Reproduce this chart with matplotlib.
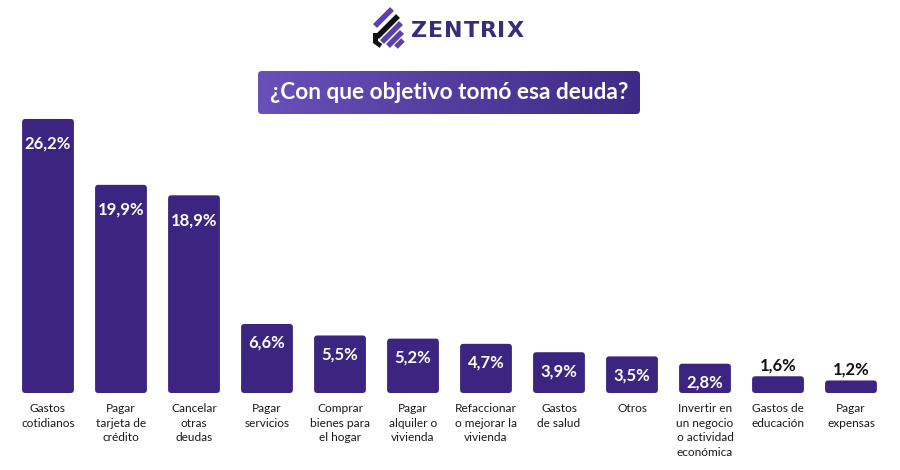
import matplotlib
matplotlib.use('Agg')
import matplotlib.pyplot as plt
import numpy as np
from matplotlib.patches import FancyBboxPatch, Polygon
from matplotlib.colors import LinearSegmentedColormap

plt.rcParams['font.family'] = ['Lato', 'DejaVu Sans']

# data
categorias = ['Gastos\ncotidianos', 'Pagar\ntarjeta de\ncrédito', 'Cancelar\notras\ndeudas',
              'Pagar\nservicios', 'Comprar\nbienes para\nel hogar', 'Pagar\nalquiler o\nvivienda',
              'Refaccionar\no mejorar la\nvivienda', 'Gastos\nde salud', 'Otros',
              'Invertir en\nun negocio\no actividad\neconómica', 'Gastos de\neducación',
              'Pagar\nexpensas']
valores = [26.2, 19.9, 18.9, 6.6, 5.5, 5.2, 4.7, 3.9, 3.5, 2.8, 1.6, 1.2]
etiquetas = ['26,2%', '19,9%', '18,9%', '6,6%', '5,5%', '5,2%', '4,7%', '3,9%', '3,5%',
             '2,8%', '1,6%', '1,2%']

bar_color = '#3c2581'
W, H = 900, 470

fig = plt.figure(figsize=(9, 4.7), dpi=100)
ax = fig.add_axes([0, 0, 1, 1])
ax.set_xlim(-48 / 73, (W - 48) / 73)
ax.set_ylim(-77 / 10.46, (H - 77) / 10.46)
ax.axis('off')

x = np.arange(len(valores))
bars = ax.bar(x, valores, width=0.71, color=bar_color, alpha=0)

# rounded bars, same geometry as the bar container
aspect = (1 / 10.46) / (1 / 73)
for b in bars:
    p = FancyBboxPatch((b.get_x(), b.get_y()), b.get_width(), b.get_height(),
                       boxstyle='round,pad=0,rounding_size=0.045',
                       mutation_aspect=aspect, facecolor=bar_color, edgecolor='none')
    ax.add_patch(p)

PT = 0.72  # points per pixel
for xi, v, lab in zip(x, valores, etiquetas):
    if v >= 15:
        ax.annotate(lab, (xi, v), xytext=(0, -25 * PT), textcoords='offset points',
                    ha='center', va='center', color='white', fontsize=12, fontweight='bold')
    elif v >= 2.5:
        ax.annotate(lab, (xi, v), xytext=(0, -19 * PT), textcoords='offset points',
                    ha='center', va='center', color='white', fontsize=12, fontweight='bold')
    else:
        ax.annotate(lab, (xi, v), xytext=(0, 2), textcoords='offset points',
                    ha='center', va='bottom', color='#111111', fontsize=12, fontweight='bold')

for xi, c in zip(x, categorias):
    ax.annotate(c, (xi, 0), xytext=(0, -7), textcoords='offset points',
                ha='center', va='top', fontsize=8.6, color='#1a1a1a', linespacing=1.42)

# title box with gradient
def px(xp, yp):
    return xp / W, 1 - yp / H

tx0, tx1, ty0, ty1 = 258, 640, 71, 114
grad = np.linspace(0, 1, 256).reshape(1, -1)
cmap = LinearSegmentedColormap.from_list('g', ['#6a50b9', '#3e2a86'])
gax = fig.add_axes([tx0 / W, 1 - ty1 / H, (tx1 - tx0) / W, (ty1 - ty0) / H])
gax.axis('off')
im = gax.imshow(grad, aspect='auto', cmap=cmap, extent=(0, 1, 0, 1))
clip = FancyBboxPatch((0, 0), 1, 1, boxstyle='round,pad=0,rounding_size=0.01',
                      mutation_aspect=(tx1 - tx0) / (ty1 - ty0), transform=gax.transAxes,
                      facecolor='none', edgecolor='none')
gax.add_patch(clip)
im.set_clip_path(clip)
gax.set_xlim(0, 1)
gax.set_ylim(0, 1)
fig.text((tx0 + tx1) / 2 / W, 1 - (ty0 + ty1) / 2 / H, '¿Con que objetivo tomó esa deuda?',
         ha='center', va='center', color='white', fontsize=16.3, fontweight='bold')

# logo
def stripe(p0, p1, t, color):
    p0, p1 = np.array(p0, float), np.array(p1, float)
    d = (p1 - p0) / np.linalg.norm(p1 - p0)
    n = np.array([-d[1], d[0]]) * t / 2
    pts = [p0 + n, p1 + n, p1 - n, p0 - n]
    fig.patches.append(Polygon([px(a, b) for a, b in pts], closed=True,
                               transform=fig.transFigure, facecolor=color, edgecolor='none'))

purple = '#5b3fae'
stripe((392, 9), (375, 26), 5.5, purple)
stripe((398, 16), (377, 37), 5.5, '#111111')
stripe((375.5, 33), (375.5, 42), 5, '#111111')
stripe((374, 41), (381, 46), 4.5, '#111111')
stripe((401, 23), (382, 42), 5.5, purple)
stripe((402, 32), (388, 46), 5.5, purple)
stripe((403, 40), (396, 47), 5, purple)

logo_x = [419, 436, 453, 471, 488, 501, 515]
for lx, ch in zip(logo_x, 'ZENTRIX'):
    fig.text(lx / W, 1 - 31 / H, ch, ha='center', va='center', color='#3b2c7a',
             fontsize=16, fontweight='bold', family=['DejaVu Sans'])

fig.savefig('out.png', dpi=100, facecolor='white')
